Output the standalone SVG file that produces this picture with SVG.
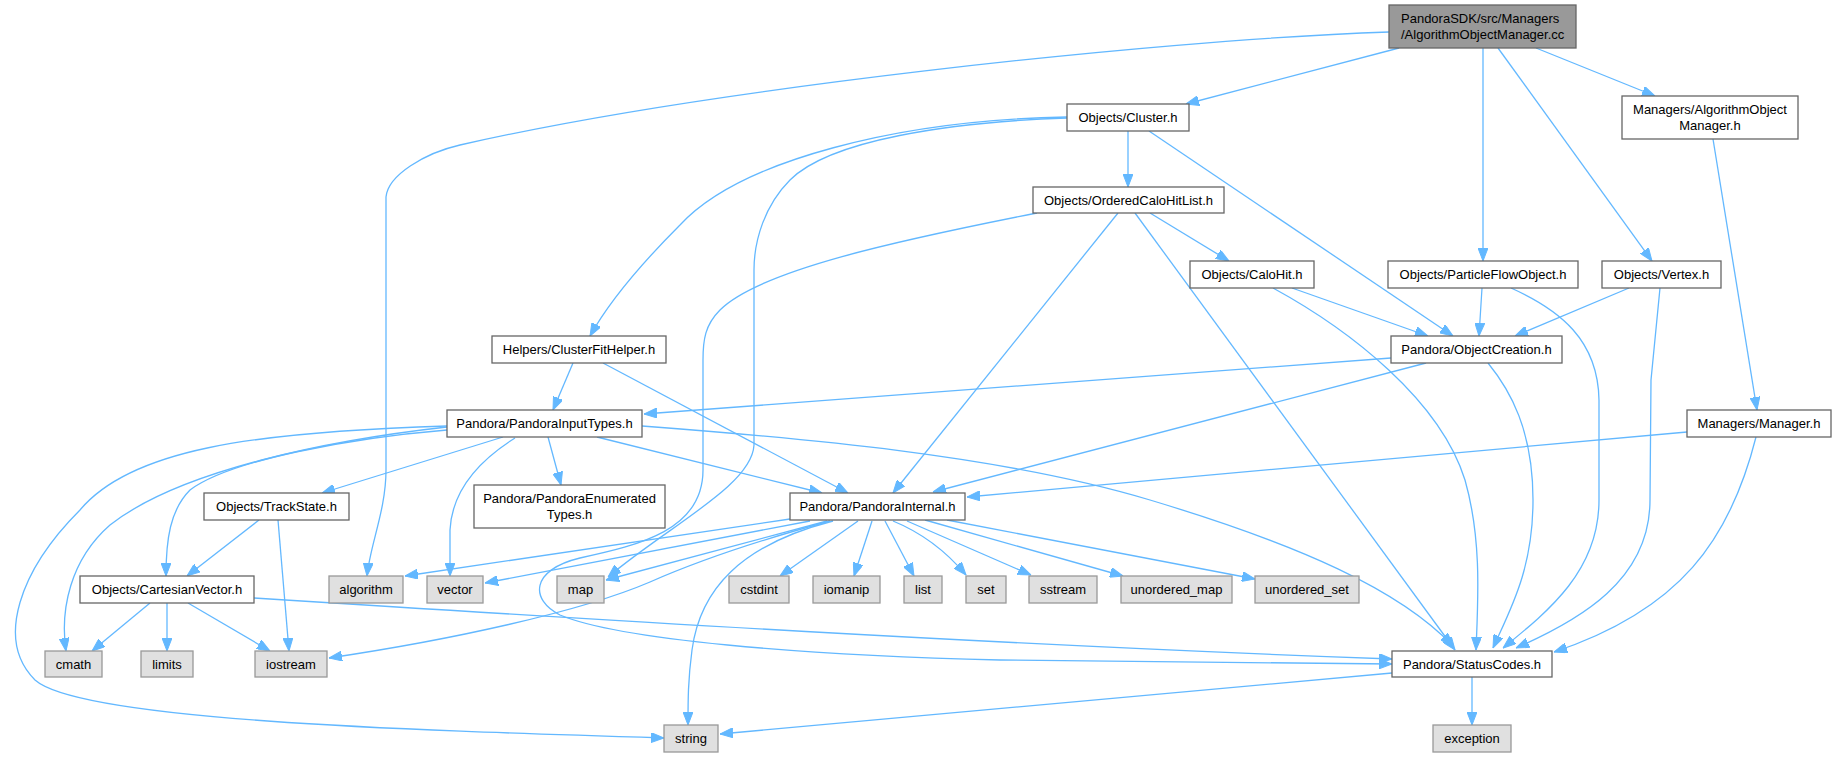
<svg xmlns="http://www.w3.org/2000/svg" width="1836" height="757" viewBox="0 0 1836 757">
<style>
.n rect{fill:#ffffff;stroke:#666666;stroke-width:1.3}
.x rect{fill:#e0e0e0;stroke:#999999;stroke-width:1.3}
.r rect{fill:#999999;stroke:#666666;stroke-width:1.3}
text{font-family:"Liberation Sans",Arial,sans-serif;font-size:13px;fill:#000000;text-anchor:middle}
.l{text-anchor:start}
.edges path{fill:none;stroke:#63b8ff;stroke-width:1.3;marker-end:url(#ah)}
</style>
<defs>
<marker id="ah" viewBox="0 0 13 10" refX="13" refY="5" markerWidth="13" markerHeight="10" markerUnits="userSpaceOnUse" orient="auto">
<path d="M0,0 L13,5 L0,10 z" fill="#63b8ff" stroke="#63b8ff" stroke-width="1"/>
</marker>
</defs>
<rect width="1836" height="757" fill="#ffffff"/>
<g id="edges" class="edges">
<path d="M1389,32 C1150,40 700,90 460,145 C425,153 388,175 386,197 L386,470 C386,510 370,545 367,576"/>
<path d="M1399,48 L1186,104"/>
<path d="M1483,48 L1483,261"/>
<path d="M1498,48 L1652,261"/>
<path d="M1536,48 L1655,96"/>
<path d="M1128,131 L1128,187"/>
<path d="M1149,131 L1453,336"/>
<path d="M1067,117 C900,120 740,160 680,225 C640,265 610,300 590,336"/>
<path d="M1067,118 C950,122 830,140 790,180 C765,205 754,240 754,270 L754,445 C752,485 670,525 608,577"/>
<path d="M1037,213 C900,240 760,270 720,310 C705,325 703,340 703,360 L703,470 C703,530 640,545 580,558 C530,570 530,600 560,615 C620,640 800,655 1000,660 L1392,664"/>
<path d="M1150,213 L1229,261"/>
<path d="M1118,213 L893,493"/>
<path d="M1135,213 L1455,650"/>
<path d="M1292,288 L1428,336"/>
<path d="M1273,288 C1350,330 1440,400 1465,480 C1482,540 1478,600 1476,650"/>
<path d="M1482,288 L1479,336"/>
<path d="M1511,288 C1560,310 1598,340 1599,400 L1599,500 C1599,570 1550,610 1503,648"/>
<path d="M1629,288 L1515,336"/>
<path d="M1660,288 L1651,380 L1650,500 C1650,580 1580,620 1516,648"/>
<path d="M1713,139 L1757,410"/>
<path d="M1687,432 L967,497"/>
<path d="M1756,437 C1730,540 1680,610 1554,652"/>
<path d="M1391,358 L644,414"/>
<path d="M1426,363 L933,492"/>
<path d="M1488,363 C1510,390 1533,430 1533,500 C1533,570 1510,610 1493,648"/>
<path d="M573,363 L553,410"/>
<path d="M603,363 L848,493"/>
<path d="M548,437 L561,485"/>
<path d="M597,437 L822,493"/>
<path d="M642,426 C800,438 1000,455 1150,500 C1300,545 1400,590 1453,646"/>
<path d="M503,437 L322,493"/>
<path d="M515,438 C480,460 452,490 450,530 L450,576"/>
<path d="M447,430 C350,438 230,460 190,490 C170,510 166,540 166,576"/>
<path d="M447,427 C330,440 180,470 110,525 C70,560 60,610 66,651"/>
<path d="M447,426 C250,432 130,450 80,510 C20,570 -5,640 35,680 C80,720 400,730 664,738"/>
<path d="M259,520 L187,576"/>
<path d="M278,520 L289,651"/>
<path d="M150,603 L92,651"/>
<path d="M167,603 L167,651"/>
<path d="M188,603 L270,651"/>
<path d="M254,598 C600,620 1000,645 1392,659"/>
<path d="M1472,677 L1472,725"/>
<path d="M1392,673 L720,734"/>
<path d="M790,519 L405,576"/>
<path d="M810,521 L485,583"/>
<path d="M827,521 L606,580"/>
<path d="M830,521 C760,540 700,560 650,582 C580,612 450,640 329,658"/>
<path d="M833,521 C740,545 700,590 692,650 C688,680 688,700 688,725"/>
<path d="M858,521 L780,576"/>
<path d="M872,521 L854,576"/>
<path d="M885,521 L914,576"/>
<path d="M893,521 C920,532 945,550 966,575"/>
<path d="M907,521 L1031,575"/>
<path d="M925,520 L1123,576"/>
<path d="M947,520 L1255,579"/>
</g>
<g id="node_root" class="r"><rect x="1389" y="5" width="187" height="43"/><text class="l" x="1401" y="23">PandoraSDK/src/Managers</text><text class="l" x="1401" y="39">/AlgorithmObjectManager.cc</text></g>
<g id="node_cluster" class="n"><rect x="1067" y="104" width="122" height="27"/><text x="1128" y="122">Objects/Cluster.h</text></g>
<g id="node_aomh" class="n"><rect x="1622" y="96" width="176" height="43"/><text x="1710" y="114">Managers/AlgorithmObject</text><text x="1710" y="130">Manager.h</text></g>
<g id="node_ochl" class="n"><rect x="1033" y="187" width="191" height="26"/><text x="1128.5" y="205">Objects/OrderedCaloHitList.h</text></g>
<g id="node_calohit" class="n"><rect x="1190" y="261" width="124" height="27"/><text x="1252" y="279">Objects/CaloHit.h</text></g>
<g id="node_pfo" class="n"><rect x="1388" y="261" width="190" height="27"/><text x="1483" y="279">Objects/ParticleFlowObject.h</text></g>
<g id="node_vertex" class="n"><rect x="1602" y="261" width="119" height="27"/><text x="1661.5" y="279">Objects/Vertex.h</text></g>
<g id="node_cfh" class="n"><rect x="492" y="336" width="174" height="27"/><text x="579" y="354">Helpers/ClusterFitHelper.h</text></g>
<g id="node_objcr" class="n"><rect x="1391" y="336" width="171" height="27"/><text x="1476.5" y="354">Pandora/ObjectCreation.h</text></g>
<g id="node_pit" class="n"><rect x="447" y="410" width="195" height="27"/><text x="544.5" y="428">Pandora/PandoraInputTypes.h</text></g>
<g id="node_manager" class="n"><rect x="1687" y="410" width="144" height="27"/><text x="1759" y="428">Managers/Manager.h</text></g>
<g id="node_trackstate" class="n"><rect x="204" y="493" width="145" height="27"/><text x="276.5" y="511">Objects/TrackState.h</text></g>
<g id="node_pet" class="n"><rect x="474" y="485" width="191" height="43"/><text x="569.5" y="503">Pandora/PandoraEnumerated</text><text x="569.5" y="519">Types.h</text></g>
<g id="node_pi" class="n"><rect x="790" y="493" width="175" height="27"/><text x="877.5" y="511">Pandora/PandoraInternal.h</text></g>
<g id="node_cartvec" class="n"><rect x="80" y="576" width="174" height="27"/><text x="167" y="594">Objects/CartesianVector.h</text></g>
<g id="node_algorithm" class="x"><rect x="329" y="576" width="74" height="27"/><text x="366" y="594">algorithm</text></g>
<g id="node_vector" class="x"><rect x="427" y="576" width="56" height="27"/><text x="455" y="594">vector</text></g>
<g id="node_map" class="x"><rect x="557" y="576" width="47" height="27"/><text x="580.5" y="594">map</text></g>
<g id="node_cstdint" class="x"><rect x="729" y="576" width="60" height="27"/><text x="759" y="594">cstdint</text></g>
<g id="node_iomanip" class="x"><rect x="813" y="576" width="67" height="27"/><text x="846.5" y="594">iomanip</text></g>
<g id="node_list" class="x"><rect x="904" y="576" width="38" height="27"/><text x="923" y="594">list</text></g>
<g id="node_set" class="x"><rect x="966" y="576" width="40" height="27"/><text x="986" y="594">set</text></g>
<g id="node_sstream" class="x"><rect x="1029" y="576" width="68" height="27"/><text x="1063" y="594">sstream</text></g>
<g id="node_umap" class="x"><rect x="1121" y="576" width="111" height="27"/><text x="1176.5" y="594">unordered_map</text></g>
<g id="node_uset" class="x"><rect x="1255" y="576" width="104" height="27"/><text x="1307" y="594">unordered_set</text></g>
<g id="node_cmath" class="x"><rect x="45" y="651" width="57" height="26"/><text x="73.5" y="669">cmath</text></g>
<g id="node_limits" class="x"><rect x="141" y="651" width="52" height="26"/><text x="167" y="669">limits</text></g>
<g id="node_iostream" class="x"><rect x="255" y="651" width="72" height="26"/><text x="291" y="669">iostream</text></g>
<g id="node_statuscodes" class="n"><rect x="1392" y="651" width="160" height="26"/><text x="1472" y="669">Pandora/StatusCodes.h</text></g>
<g id="node_string" class="x"><rect x="664" y="725" width="54" height="27"/><text x="691" y="743">string</text></g>
<g id="node_exception" class="x"><rect x="1433" y="725" width="78" height="27"/><text x="1472" y="743">exception</text></g>
</svg>
